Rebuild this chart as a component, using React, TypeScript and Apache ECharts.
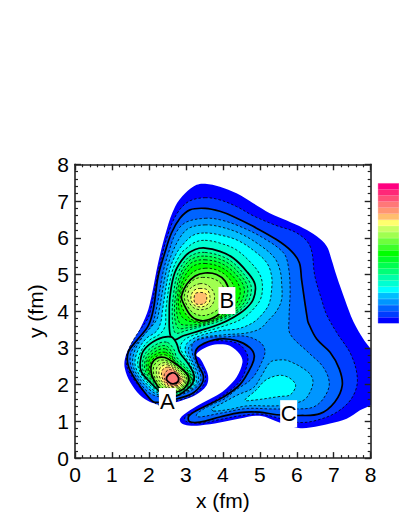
import React, { useEffect, useRef } from "react";
import * as echarts from "echarts";

const xTicks = [0, 1, 2, 3, 4, 5, 6, 7, 8];
const bandColors = ["#0000ff","#003cff","#0064ff","#0096ff","#00beff","#00ffff","#00ffd2","#00ffaa","#00ff78","#00ff50","#00ff28","#00ff00","#3cff28","#6eff3c","#a0ff50","#c8ff64","#ffff6e","#ffbe6e","#ff9673","#ff7878","#ff5078","#ff2878","#ff0080"];
const solidLevels = [3, 8, 14, 20];
const peakNames = ["A", "B", "C"];
const peakX = [2.5, 4.11, 5.78];
const peakY = [1.54, 4.29, 1.21];

const level1 = [[3.52,7.47],[3.92,7.39],[4.37,7.21],[4.82,6.94],[5.27,6.67],[5.73,6.47],[6.18,6.26],[6.54,6.04],[6.81,5.77],[6.94,5.41],[7.08,4.95],[7.3,4.32],[7.53,3.72],[7.8,3.24],[8.1,2.75],[8.1,1.55],[7.71,1.30],[7.35,1.07],[6.9,0.94],[6.36,0.83],[6.05,0.82],[5.55,0.96],[5.0,1.15],[4.46,1.08],[3.92,0.97],[3.38,0.89],[3.07,0.89],[2.89,0.94],[2.84,1.07],[3.11,1.3],[3.56,1.56],[3.92,1.76],[4.15,1.95],[4.37,2.2],[4.53,2.6],[4.46,2.83],[4.19,3.06],[3.92,3.1],[3.65,3.06],[3.38,2.92],[3.28,2.8],[3.38,2.72],[3.48,2.55],[3.6,2.25],[3.56,1.98],[3.25,1.71],[2.98,1.6],[2.72,1.52],[2.25,1.48],[2.03,1.53],[1.76,1.71],[1.49,2.07],[1.35,2.43],[1.35,2.7],[1.49,3.06],[1.71,3.42],[1.95,3.95],[2.07,4.41],[2.25,5.32],[2.48,6.22],[2.71,6.85],[2.98,7.21],[3.29,7.44]];
const level2 = [[3.52,7.09],[3.92,7.03],[4.37,6.85],[4.82,6.6],[5.4,6.35],[6.0,6.13],[6.36,5.77],[6.49,4.95],[6.67,4.32],[6.81,3.9],[7.08,3.42],[7.48,2.79],[7.64,2.11],[7.48,1.62],[7.08,1.25],[6.54,1.03],[6.08,0.97],[5.55,1.08],[5.0,1.2],[4.46,1.15],[3.92,1.05],[3.4,0.95],[3.0,1.0],[2.98,1.12],[3.2,1.25],[3.6,1.46],[4.0,1.7],[4.45,2.08],[4.66,2.55],[4.65,2.85],[4.4,3.12],[3.92,3.2],[3.6,3.17],[3.3,3.02],[3.15,2.8],[3.42,2.5],[3.53,2.25],[3.48,2.0],[3.2,1.72],[2.72,1.55],[2.25,1.45],[2.05,1.62],[1.7,2.0],[1.42,2.45],[1.4,2.8],[1.6,3.25],[1.97,3.8],[2.05,4.05],[2.16,4.6],[2.3,5.3],[2.55,6.2],[2.8,6.72],[3.1,7.0]];
const level3 = [[3.52,6.8],[3.92,6.72],[4.28,6.58],[4.82,6.31],[5.45,5.95],[5.86,5.63],[6.07,5.32],[6.13,4.86],[6.22,4.23],[6.28,3.83],[6.31,3.69],[6.54,3.24],[6.9,2.88],[7.15,2.43],[7.23,1.98],[7.03,1.53],[6.63,1.21],[6.08,1.16],[5.46,1.18],[5.0,1.25],[4.46,1.24],[3.92,1.12],[3.38,0.98],[3.09,1.0],[3.09,1.16],[3.56,1.43],[4.01,1.66],[4.46,2.0],[4.78,2.52],[4.85,2.79],[4.73,3.01],[4.37,3.2],[3.87,3.24],[3.38,3.06],[3.25,2.84],[3.34,2.52],[3.47,2.25],[3.43,2.02],[3.16,1.75],[2.7,1.6],[2.16,1.52],[1.94,1.72],[1.62,2.16],[1.44,2.52],[1.44,2.88],[1.67,3.2],[1.98,3.6],[2.12,4.05],[2.25,4.95],[2.43,5.59],[2.61,6.13],[2.84,6.53],[3.11,6.76]];
const level4 = [[3.52,6.53],[3.92,6.49],[4.46,6.31],[5.1,5.99],[5.64,5.59],[5.77,5.23],[5.82,4.59],[5.79,3.78],[5.82,3.38],[6.31,2.88],[6.72,2.47],[6.88,2.02],[6.72,1.62],[6.45,1.39],[6.08,1.34],[5.27,1.34],[4.64,1.35],[3.92,1.22],[3.38,1.12],[3.28,1.15],[3.36,1.26],[3.75,1.48],[4.06,1.62],[4.33,1.84],[4.78,2.16],[5.05,2.61],[5.14,2.93],[5.0,3.16],[4.6,3.32],[4.06,3.3],[3.65,3.29],[3.2,3.15],[3.17,2.88],[3.28,2.56],[3.4,2.25],[3.37,2.02],[3.1,1.82],[2.7,1.68],[2.4,1.65],[2.0,1.78],[1.69,2.16],[1.51,2.52],[1.52,2.88],[1.74,3.2],[2.07,3.6],[2.2,4.05],[2.38,5.05],[2.53,5.59],[2.73,6.13],[3.0,6.42]];
const level5Upper = [[3.52,6.35],[3.92,6.3],[4.46,6.12],[5.0,5.8],[5.4,5.45],[5.55,5.1],[5.59,4.77],[5.59,4.32],[5.45,4.0],[5.23,3.75],[5.0,3.52],[4.6,3.4],[4.06,3.36],[3.38,3.26],[3.1,3.05],[3.07,2.88],[3.21,2.56],[3.33,2.25],[3.31,2.02],[3.05,1.83],[2.7,1.7],[2.4,1.68],[2.06,1.83],[1.75,2.16],[1.57,2.52],[1.6,2.88],[1.83,3.3],[2.2,3.75],[2.28,4.05],[2.46,5.05],[2.63,5.59],[2.87,6.05],[3.1,6.27]];
const level5Lower = [[3.75,1.28],[4.2,1.33],[4.64,1.42],[5.27,1.42],[5.55,1.43],[6.05,1.52],[6.27,1.65],[6.44,2.07],[6.31,2.34],[5.77,2.65],[5.5,2.67],[5.28,2.61],[5.05,2.25],[4.83,1.92],[4.4,1.72],[3.9,1.45],[3.7,1.34]];
const level6Upper = [[3.52,6.13],[3.9,6.08],[4.4,5.93],[4.9,5.6],[5.2,5.3],[5.32,4.95],[5.32,4.6],[5.25,4.2],[5.05,3.9],[4.8,3.68],[4.4,3.52],[3.92,3.47],[3.38,3.33],[3.05,3.15],[2.98,2.92],[3.16,2.56],[3.27,2.25],[3.26,2.02],[3.0,1.82],[2.7,1.72],[2.4,1.72],[2.11,1.86],[1.82,2.16],[1.63,2.52],[1.68,2.88],[1.92,3.25],[2.2,3.45],[2.32,3.7],[2.37,4.05],[2.54,5.05],[2.73,5.55],[2.95,5.85],[3.2,6.07]];
const level6Lower = [[4.6,1.58],[4.9,1.85],[5.14,2.11],[5.4,2.23],[5.62,2.25],[5.85,2.15],[5.97,1.97],[5.82,1.72],[5.55,1.68],[4.85,1.58]];
const level7 = [[3.52,5.93],[3.9,5.86],[4.35,5.68],[4.75,5.33],[5.0,5.0],[5.07,4.7],[5.02,4.33],[4.8,4.03],[4.5,3.78],[3.92,3.56],[3.38,3.4],[3.0,3.25],[2.85,3.05],[2.9,2.88],[3.11,2.56],[3.23,2.25],[3.21,2.02],[2.96,1.82],[2.7,1.7],[2.42,1.72],[2.16,1.88],[1.88,2.16],[1.7,2.52],[1.77,2.88],[2.0,3.2],[2.3,3.38],[2.44,3.6],[2.46,4.05],[2.62,5.05],[2.85,5.55],[3.0,5.7],[3.25,5.88]];
const level8B = [[3.52,5.72],[3.92,5.63],[4.28,5.45],[4.64,5.09],[4.87,4.73],[4.82,4.32],[4.6,4.05],[4.28,3.83],[3.92,3.65],[3.38,3.47],[2.93,3.33],[2.68,3.22],[2.57,3.38],[2.55,3.87],[2.57,4.41],[2.7,5.05],[2.98,5.5],[3.25,5.68]];
const level9B = [[3.52,5.6],[3.9,5.52],[4.24,5.35],[4.56,5.02],[4.76,4.7],[4.72,4.33],[4.52,4.07],[4.22,3.87],[3.88,3.72],[3.4,3.58],[3.0,3.47],[2.73,3.4],[2.66,3.55],[2.63,3.95],[2.66,4.42],[2.77,5.0],[3.02,5.42],[3.27,5.57]];
const level10B = [[3.52,5.5],[3.88,5.43],[4.2,5.27],[4.5,4.96],[4.67,4.66],[4.63,4.34],[4.45,4.08],[4.18,3.9],[3.85,3.76],[3.42,3.62],[3.05,3.55],[2.8,3.53],[2.72,3.7],[2.69,4.0],[2.72,4.42],[2.83,4.96],[3.06,5.35],[3.28,5.47]];
const level11B = [[3.52,5.4],[3.86,5.34],[4.16,5.18],[4.44,4.9],[4.58,4.62],[4.54,4.35],[4.38,4.1],[4.13,3.9],[3.8,3.76],[3.43,3.66],[3.08,3.62],[2.86,3.65],[2.78,3.8],[2.75,4.05],[2.77,4.42],[2.87,4.92],[3.1,5.28],[3.3,5.38]];
const level12B = [[3.52,5.3],[3.84,5.24],[4.12,5.09],[4.36,4.84],[4.47,4.58],[4.43,4.33],[4.3,4.12],[4.08,3.92],[3.78,3.78],[3.45,3.7],[3.12,3.72],[2.92,3.82],[2.83,3.98],[2.8,4.15],[2.81,4.42],[2.92,4.85],[3.13,5.18],[3.32,5.28]];
const level13B = [[3.52,5.17],[3.84,5.12],[4.1,4.96],[4.28,4.72],[4.32,4.48],[4.24,4.2],[4.06,3.96],[3.78,3.8],[3.46,3.72],[3.14,3.78],[2.92,4.05],[2.85,4.38],[2.97,4.8],[3.2,5.07]];
const level14B = [[3.52,5.04],[3.83,5.0],[4.06,4.82],[4.17,4.5],[4.1,4.2],[4.01,4.05],[3.83,3.87],[3.47,3.74],[3.16,3.85],[2.92,4.24],[2.88,4.41],[3.02,4.73],[3.25,4.96]];
const level15B = [[3.45,4.92],[3.75,4.88],[3.98,4.72],[4.05,4.45],[3.95,4.15],[3.75,3.97],[3.45,3.88],[3.18,3.97],[3.0,4.22],[2.96,4.42],[3.06,4.7],[3.24,4.87]];
const level16B = [[3.38,4.75],[3.6,4.7],[3.75,4.52],[3.77,4.32],[3.66,4.12],[3.42,4.04],[3.2,4.1],[3.07,4.28],[3.04,4.42],[3.12,4.62]];
const level17B = [[3.38,4.62],[3.58,4.58],[3.65,4.4],[3.62,4.22],[3.45,4.12],[3.25,4.15],[3.14,4.3],[3.16,4.48],[3.24,4.58]];
const level18B = [[3.27,4.49],[3.53,4.48],[3.56,4.3],[3.48,4.2],[3.27,4.2],[3.22,4.32]];
const level8A = [[2.6,3.3],[2.75,3.12],[2.83,2.88],[3.07,2.56],[3.22,2.25],[3.17,2.02],[2.93,1.8],[2.72,1.69],[2.4,1.72],[2.21,1.89],[1.94,2.16],[1.8,2.34],[1.76,2.56],[1.85,2.92],[2.21,3.22]];
const level9A = [[2.5,3.15],[2.68,2.95],[2.75,2.75],[3.0,2.5],[3.18,2.24],[3.14,2.03],[2.9,1.83],[2.7,1.73],[2.4,1.75],[2.2,1.95],[1.98,2.16],[1.85,2.36],[1.82,2.56],[1.92,2.87],[2.25,3.12]];
const level10A = [[2.48,3.05],[2.63,2.87],[2.72,2.68],[2.97,2.46],[3.15,2.23],[3.1,2.02],[2.87,1.85],[2.68,1.76],[2.42,1.78],[2.22,1.98],[2.02,2.18],[1.9,2.38],[1.88,2.56],[1.97,2.82],[2.25,3.03]];
const level11A = [[2.46,2.97],[2.6,2.82],[2.7,2.64],[2.94,2.42],[3.12,2.22],[3.06,2.0],[2.85,1.86],[2.65,1.78],[2.42,1.8],[2.25,1.96],[2.06,2.2],[1.95,2.38],[1.93,2.56],[2.0,2.76],[2.26,2.95]];
const level12A = [[2.45,2.88],[2.6,2.76],[2.72,2.6],[2.92,2.42],[3.1,2.21],[3.03,1.98],[2.82,1.85],[2.62,1.79],[2.42,1.82],[2.27,1.94],[2.09,2.2],[1.99,2.38],[1.98,2.56],[2.04,2.72],[2.25,2.86]];
const level13A = [[2.44,2.81],[2.62,2.68],[2.84,2.48],[3.08,2.21],[3.0,1.95],[2.78,1.82],[2.5,1.8],[2.3,1.89],[2.1,2.18],[2.02,2.36],[2.03,2.56],[2.18,2.76]];
const level14A = [[2.43,2.74],[2.66,2.61],[2.89,2.43],[3.07,2.2],[2.98,1.93],[2.75,1.8],[2.5,1.8],[2.3,1.89],[2.12,2.16],[2.06,2.34],[2.07,2.56],[2.21,2.72]];
const level15A = [[2.45,2.66],[2.66,2.55],[2.86,2.38],[3.02,2.18],[2.94,1.96],[2.75,1.84],[2.5,1.85],[2.33,1.95],[2.17,2.17],[2.12,2.35],[2.14,2.52],[2.26,2.65]];
const level16A = [[2.47,2.6],[2.66,2.5],[2.84,2.34],[2.98,2.16],[2.9,1.97],[2.72,1.88],[2.52,1.9],[2.37,2.0],[2.23,2.18],[2.2,2.34],[2.22,2.48],[2.32,2.57]];
const level17A = [[2.5,2.54],[2.66,2.46],[2.82,2.3],[2.94,2.14],[2.86,1.98],[2.7,1.92],[2.54,1.93],[2.4,2.03],[2.3,2.18],[2.27,2.32],[2.3,2.45],[2.38,2.52]];
const level18A = [[2.52,2.48],[2.67,2.42],[2.8,2.28],[2.9,2.13],[2.82,2.0],[2.68,1.95],[2.55,1.97],[2.43,2.06],[2.36,2.19],[2.34,2.32],[2.38,2.42]];
const level19A = [[2.55,2.41],[2.68,2.37],[2.79,2.28],[2.85,2.12],[2.76,2.0],[2.66,1.98],[2.52,2.02],[2.44,2.12],[2.41,2.22],[2.44,2.33]];
const level20A = [[2.48,2.2],[2.62,2.32],[2.75,2.27],[2.8,2.11],[2.66,2.02],[2.52,2.08]];

const contours: [number, number[][]][] = [
  [1, level1],[2, level2],[3, level3],[4, level4],[5, level5Upper],[5, level5Lower],[6, level6Upper],[6, level6Lower],[7, level7],
  [8, level8B],[9, level9B],[10, level10B],[11, level11B],[12, level12B],[13, level13B],[14, level14B],[15, level15B],[16, level16B],[17, level17B],[18, level18B],
  [8, level8A],[9, level9A],[10, level10A],[11, level11A],[12, level12A],[13, level13A],[14, level14A],[15, level15A],[16, level16A],[17, level17A],[18, level18A],[19, level19A],[20, level20A],
];

const fontFamily = "'Liberation Sans', Arial, sans-serif";

export default function App() {
  const ref = useRef<HTMLDivElement>(null);
  useEffect(() => {
    document.body.style.margin = "0";
    const chart = echarts.init(ref.current!, undefined, { renderer: "svg" });
    const axisStyle = { onZero: false, lineStyle: { color: "#222", width: 1.6 } };
    const tickStyle = { show: true, inside: true, length: 6, lineStyle: { color: "#222", width: 1.4 } };
    const minorStyle = { show: true, splitNumber: 5, length: 3, lineStyle: { color: "#222", width: 1.2 } };
    const barLevels = bandColors.map((_, i) => String(i));
    chart.setOption({
      animation: false,
      backgroundColor: "#fff",
      grid: [
        { left: 75, top: 164.3, width: 295.7, height: 295.4, containLabel: false },
        { left: 378, top: 183.3, width: 30, height: 140 },
      ],
      xAxis: [
        {
          gridIndex: 0, type: "value", min: 0, max: 8, interval: 1, position: "bottom", z: 10,
          name: "x (fm)", nameLocation: "middle", nameGap: 28,
          nameTextStyle: { fontFamily, fontSize: 21, color: "#000" },
          axisLine: axisStyle, axisTick: tickStyle, minorTick: minorStyle, splitLine: { show: false },
          axisLabel: { fontFamily, fontSize: 21, color: "#000", margin: 6, customValues: xTicks },
        },
        {
          gridIndex: 0, type: "value", min: 0, max: 8, interval: 1, position: "top", z: 10,
          axisLine: axisStyle, axisTick: tickStyle, minorTick: minorStyle, splitLine: { show: false }, axisLabel: { show: false },
        },
        { gridIndex: 1, type: "value", min: 0, max: 1, show: false },
      ],
      yAxis: [
        {
          gridIndex: 0, type: "value", min: 0, max: 8, interval: 1, position: "left", z: 10,
          name: "y (fm)", nameLocation: "middle", nameGap: 27, nameRotate: 90,
          nameTextStyle: { fontFamily, fontSize: 21, color: "#000" },
          axisLine: axisStyle, axisTick: tickStyle, minorTick: minorStyle, splitLine: { show: false },
          axisLabel: { fontFamily, fontSize: 21, color: "#000", margin: 6 },
        },
        {
          gridIndex: 0, type: "value", min: 0, max: 8, interval: 1, position: "right", z: 10,
          axisLine: axisStyle, axisTick: tickStyle, minorTick: minorStyle, splitLine: { show: false }, axisLabel: { show: false },
        },
        { gridIndex: 1, type: "category", data: barLevels, show: false },
      ],
      series: [
        {
          type: "custom",
          coordinateSystem: "cartesian2d",
          xAxisIndex: 0,
          yAxisIndex: 0,
          clip: true,
          silent: true,
          z: 2,
          data: contours.map((_, i) => [i]),
          encode: { x: 0 },
          renderItem: (_params: any, api: any) => {
            const [level, loop] = contours[api.value(0)];
            const points = loop.map((p) => api.coord(p));
            const isEdge = level === 1;
            const solid = solidLevels.includes(level);
            return {
              type: "polygon",
              shape: { points, smooth: 0.35 },
              style: {
                fill: bandColors[level - 1],
                stroke: isEdge ? bandColors[0] : "#000",
                lineWidth: isEdge ? 0 : solid ? 1.7 : 0.8,
                lineDash: solid || isEdge ? null : [2.5, 2],
              },
            };
          },
        },
        {
          type: "scatter",
          xAxisIndex: 0,
          yAxisIndex: 0,
          z: 4,
          symbolSize: 0,
          silent: true,
          itemStyle: { opacity: 1 },
          data: peakNames.map((name, i) => ({ name, value: [peakX[i], peakY[i]] })),
          label: {
            show: true,
            position: "inside",
            formatter: "{b}",
            fontFamily,
            fontSize: 22,
            color: "#000",
            backgroundColor: "#fff",
            width: 17,
            height: 27,
            lineHeight: 27,
            align: "center",
            verticalAlign: "middle",
          },
        },
        {
          type: "bar",
          xAxisIndex: 2,
          yAxisIndex: 2,
          silent: true,
          barCategoryGap: 0,
          barWidth: "100%",
          data: bandColors.map((color) => ({
            value: 1,
            itemStyle: { color, borderColor: color, borderWidth: 0.3 },
          })),
        },
      ],
    });
    return () => chart.dispose();
  }, []);
  return <div ref={ref} style={{ width: 399, height: 516, position: "fixed", left: 0, top: 0 }} />;
}
